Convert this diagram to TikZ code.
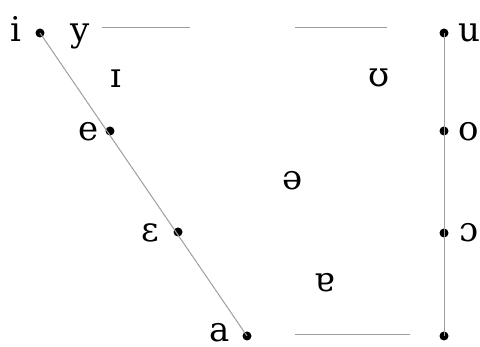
\documentclass[tikz,border=0pt]{standalone}
\usepackage{fontspec}
\setmainfont{DejaVu Serif}
\begin{document}
\begin{tikzpicture}[x=1pt,y=-1pt,
  dot/.style={circle,fill=black,inner sep=0pt,minimum size=9pt},
  vowel/.style={anchor=base,inner sep=0pt,font=\fontsize{34}{34}\selectfont},
  gline/.style={draw=black!38,line width=1pt}]
\useasboundingbox (0,0) rectangle (480,347);
% dots
\node[dot] (di) at (40,33) {};
\node[dot] (du) at (444,33) {};
\node[dot] (de) at (110,131) {};
\node[dot] (deps) at (178,232) {};
\node[dot] (da) at (247,336) {};
\node[dot] (dbr) at (444,336) {};
\node[dot] (do) at (444,131) {};
\node[dot] (dopen) at (444,233) {};
% lines
\draw[gline] (di.center) -- (da.center);
\draw[gline] (du.center) -- (dbr.center);
\coordinate (t1) at (102,28);
\coordinate (t2) at (190,28);
\coordinate (t3) at (295,28);
\coordinate (t4) at (387,28);
\coordinate (b1) at (295,335);
\coordinate (b2) at (410,335);
\draw[gline] (t1) -- (t2);
\draw[gline] (t3) -- (t4);
\draw[gline] (b1) -- (b2);
% labels
\node[vowel] (li) at (16,42) {i};
\node[vowel] (ly) at (80,42) {y};
\node[vowel] (lI) at (116,88) {ɪ};
\node[vowel] (lU) at (379,87) {ʊ};
\node[vowel] (lu) at (469,42) {u};
\node[vowel] (le) at (89,141) {e};
\node[vowel] (leps) at (150,242) {ɛ};
\node[vowel] (lschwa) at (293,190) {ə};
\node[vowel] (lturna) at (325,292) {ɐ};
\node[vowel] (la) at (220,342) {a};
\node[vowel] (lo) at (469,141) {o};
\node[vowel] (lopen) at (469,242) {ɔ};
\end{tikzpicture}
\end{document}
